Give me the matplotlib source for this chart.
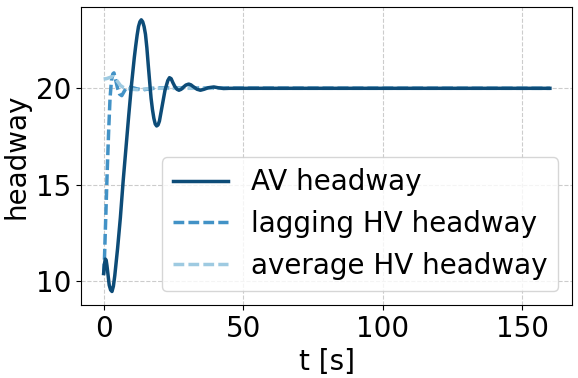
import matplotlib
matplotlib.use("Agg")
import matplotlib.pyplot as plt

# AV headway
t_av = [0, 0.3, 0.6, 0.9, 1.2, 1.6, 2, 2.5, 3, 3.5, 4, 5, 6, 7, 8, 9, 10, 11, 11.5, 12, 12.5,
        13, 13.5, 14, 14.5, 15, 15.5, 16, 16.7, 17, 17.5, 18, 18.5, 19, 19.5, 20, 21, 22, 23,
        23.6, 24.2, 24.8, 25.5, 26.3, 27, 27.8, 28.5, 29.5, 30.5, 31.3, 32, 33.5, 34.7,
        36, 37.5, 39.5, 41, 43, 45, 160]
y_av = [10.4, 10.9, 11.15, 11.1, 10.8, 10.3, 9.8, 9.55, 9.47, 9.75, 10.3, 11.7, 13.3, 15.2,
        16.9, 18.6, 20.2, 21.6, 22.2, 22.75, 23.2, 23.45, 23.55, 23.45, 23.2, 22.8, 22.1,
        21.2, 20.0, 19.5, 18.9, 18.45, 18.15, 18.05, 18.1, 18.3, 19.1, 19.9, 20.4,
        20.55, 20.5, 20.3, 20.1, 19.95, 19.9, 19.95, 20.05, 20.17, 20.22, 20.18, 20.1,
        19.95, 19.9, 19.95, 20.03, 20.07, 20.03, 19.99, 20.0, 20.0]

# lagging HV headway
t_lag = [0, 0.3, 0.8, 1.3, 1.8, 2.3, 2.8, 3.3, 3.7, 4.2, 5, 5.7, 6.5, 7.2, 8, 9, 10, 12,
         14, 16, 18, 20, 160]
y_lag = [10.35, 11.2, 13.5, 15.8, 17.8, 19.5, 20.4, 20.75, 20.8, 20.5, 20.0, 19.7, 19.62,
         19.8, 20.0, 20.05, 20.05, 19.97, 19.92, 19.96, 20.0, 20.02, 20.0]

# average HV headway
t_avg = [0, 1, 2, 3, 3.7, 5, 6, 7, 8, 10, 12, 14, 17, 160]
y_avg = [20.48, 20.5, 20.55, 20.6, 20.6, 20.35, 20.15, 20.05, 20.0, 19.95, 19.93, 19.95,
         20.0, 20.0]

labels = ["AV headway", "lagging HV headway", "average HV headway"]
colors = ["#0d4c78", "#4292c6", "#9ecae1"]

fig = plt.figure(figsize=(5.78, 3.78), dpi=100)
ax = fig.add_axes([0.1407, 0.1931, 0.8493, 0.7892])

ax.plot(t_av, y_av, color=colors[0], lw=2.5, label=labels[0], zorder=4)
ax.plot(t_lag, y_lag, color=colors[1], lw=2.5, ls=(0, (3.1, 1.2)), label=labels[1], zorder=3)
ax.plot(t_avg, y_avg, color=colors[2], lw=2.5, ls=(0, (3.1, 1.2)), label=labels[2], zorder=3)

ax.set_xlim(-8, 168)
ax.set_ylim(8.77, 24.23)
ax.set_xticks([0, 50, 100, 150])
ax.set_yticks([10, 15, 20])
ax.grid(True, ls="--", color="#cccccc", lw=0.8)
ax.tick_params(labelsize=20)
ax.set_xlabel("t [s]", fontsize=20, labelpad=4)
ax.set_ylabel("headway", fontsize=20, labelpad=4)
ax.legend(loc="lower right", fontsize=20, handlelength=2.0, labelspacing=0.5)

fig.savefig("out.png", dpi=100)
